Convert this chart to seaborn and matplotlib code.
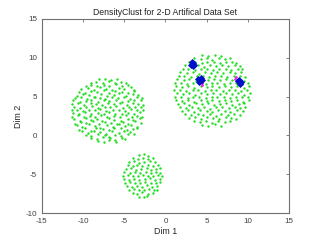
import numpy as np
import pandas as pd
import matplotlib
matplotlib.use("Agg")
import matplotlib.pyplot as plt
import seaborn as sns

# ---------------- data ----------------
left_x = [
    -8.2, -7.5, -6.8, -6.0,
    -9.0, -8.3, -7.6, -6.7, -6.1, -5.3, -4.9,
    -9.7, -9.0, -8.2, -7.4, -6.9, -6.1, -5.4, -4.6,
    -10.1, -9.4, -8.7, -7.9, -7.2, -6.5, -5.7, -5.0, -4.3, -3.8,
    -10.5, -9.8, -9.1, -8.4, -7.6, -6.8, -6.2, -5.4, -4.7, -4.0, -3.5,
    -10.8, -10.1, -9.3, -8.6, -7.9, -7.1, -6.4, -5.7, -4.9, -4.2, -3.4,
    -11.0, -10.3, -9.6, -8.8, -8.1, -7.4, -6.6, -5.9, -5.2, -4.5, -3.7, -3.0,
    -11.1, -10.4, -9.7, -9.0, -8.3, -7.7, -6.9, -6.2, -5.4, -4.6, -3.9, -3.1,
    -11.3, -10.6, -9.9, -9.2, -8.5, -7.8, -7.1, -6.3, -5.5, -4.8, -4.1, -3.4, -2.8,
    -11.2, -10.5, -9.8, -9.0, -8.2, -7.5, -6.8, -6.1, -5.3, -4.6, -3.8, -3.1,
    -11.4, -10.8, -10.0, -9.3, -8.6, -7.9, -7.2, -6.4, -5.7, -4.9, -4.2, -3.5, -2.7,
    -11.1, -10.4, -9.6, -8.9, -8.2, -7.4, -6.7, -6.0, -5.2, -4.4, -3.7, -3.0,
    -11.3, -10.6, -9.9, -9.1, -8.4, -7.7, -7.0, -6.3, -5.5, -4.7, -4.0, -3.3, -2.7,
    -11.2, -10.4, -9.7, -9.0, -8.2, -7.5, -6.8, -6.0, -5.3, -4.5, -3.8, -3.0,
    -11.0, -10.2, -9.5, -8.7, -8.0, -7.3, -6.5, -5.8, -5.0, -4.3, -3.5, -2.9,
    -10.8, -10.0, -9.3, -8.6, -7.8, -7.1, -6.3, -5.6, -4.8, -4.0, -3.3,
    -10.5, -9.8, -9.0, -8.3, -7.5, -6.8, -6.1, -5.3, -4.6, -3.8,
    -10.2, -9.4, -8.7, -8.0, -7.2, -6.5, -5.7, -5.0, -4.2, -3.8,
    -9.7, -9.0, -8.3, -7.5, -6.8, -6.0, -5.3, -4.5,
    -9.1, -8.4, -7.6, -6.9, -6.1, -5.4, -4.8,
    -8.1, -7.4, -6.6, -5.9,
]
left_y = [
    -0.7, -0.9, -0.6, -0.8,
    -0.3, -0.5, -0.2, -0.4, -0.6, -0.3, -0.5,
    0.1, -0.1, 0.2, 0.0, -0.2, 0.1, -0.1, 0.2,
    0.5, 0.3, 0.6, 0.4, 0.2, 0.5, 0.3, 0.6, 0.4, 0.2,
    0.7, 0.9, 0.6, 1.0, 0.8, 0.7, 0.9, 1.0, 0.7, 0.8, 0.9,
    1.3, 1.1, 1.4, 1.2, 1.0, 1.3, 1.1, 1.4, 1.2, 1.3, 1.1,
    1.5, 1.7, 1.6, 1.8, 1.5, 1.7, 1.6, 1.4, 1.7, 1.5, 1.8, 1.6,
    2.1, 1.9, 2.2, 2.0, 2.1, 1.9, 2.2, 2.0, 1.9, 2.1, 2.0, 2.2,
    2.4, 2.6, 2.3, 2.5, 2.4, 2.6, 2.3, 2.5, 2.4, 2.6, 2.3, 2.5, 2.4,
    2.9, 2.7, 3.0, 2.8, 2.9, 2.7, 3.0, 2.8, 2.7, 2.9, 2.8, 3.0,
    3.2, 3.3, 3.1, 3.3, 3.2, 3.4, 3.1, 3.2, 3.3, 3.1, 3.4, 3.2, 3.3,
    3.7, 3.5, 3.6, 3.8, 3.5, 3.7, 3.6, 3.8, 3.5, 3.7, 3.6, 3.7,
    4.0, 4.1, 3.9, 4.2, 4.0, 3.9, 4.1, 4.0, 4.2, 3.9, 4.1, 4.0, 3.9,
    4.5, 4.3, 4.4, 4.6, 4.3, 4.5, 4.4, 4.6, 4.3, 4.4, 4.6, 4.5,
    4.8, 4.9, 4.7, 5.0, 4.8, 4.7, 4.9, 4.8, 5.0, 4.7, 4.9, 4.8,
    5.1, 5.3, 5.2, 5.0, 5.3, 5.1, 5.2, 5.4, 5.1, 5.3, 5.2,
    5.6, 5.5, 5.7, 5.6, 5.8, 5.5, 5.7, 5.6, 5.5, 5.7,
    6.0, 6.1, 5.9, 6.2, 6.0, 5.9, 6.1, 6.0, 6.2, 5.9,
    6.4, 6.5, 6.3, 6.5, 6.4, 6.6, 6.3, 6.5,
    6.8, 6.9, 6.7, 7.0, 6.8, 6.9, 6.7,
    7.2, 7.3, 7.1, 7.3,
]

right_x = [
    4.5, 5.2, 6.0, 6.8,
    3.5, 4.2, 4.9, 5.7, 6.4, 7.2, 7.9,
    2.9, 3.6, 4.3, 5.0, 5.8, 6.5, 7.3, 8.0, 8.6,
    2.4, 3.1, 3.9, 4.6, 5.4, 6.1, 6.8, 7.6, 8.3, 9.0,
    2.0, 2.8, 3.5, 4.2, 5.0, 5.7, 6.4, 7.2, 7.9, 8.7, 9.4,
    1.8, 2.5, 3.2, 4.0, 4.7, 5.4, 6.2, 6.9, 7.7, 8.4, 9.1, 9.7,
    1.5, 2.2, 2.9, 3.7, 4.4, 5.2, 5.9, 6.6, 7.4, 8.1, 8.9, 9.6,
    1.3, 2.0, 2.8, 3.5, 4.3, 5.0, 5.7, 6.5, 7.2, 8.0, 8.7, 9.4, 10.1,
    1.2, 1.9, 2.7, 3.4, 4.1, 4.9, 5.6, 6.3, 7.1, 7.8, 8.6, 9.3, 10.0,
    1.4, 2.1, 2.9, 3.6, 4.3, 5.1, 5.8, 6.6, 7.3, 8.1, 8.8, 9.6, 10.3,
    1.1, 1.8, 2.5, 3.3, 4.0, 4.8, 5.5, 6.2, 7.0, 7.7, 8.5, 9.2, 9.9,
    1.3, 2.0, 2.8, 3.5, 4.3, 5.0, 5.7, 6.5, 7.2, 8.0, 8.7, 9.5, 10.2,
    1.2, 1.9, 2.6, 3.4, 4.1, 4.9, 5.6, 6.3, 7.1, 7.8, 8.6, 9.3, 10.0,
    1.4, 2.2, 2.9, 3.7, 4.4, 5.2, 5.9, 6.6, 7.4, 8.1, 8.9, 9.6,
    1.6, 2.3, 3.1, 3.8, 4.6, 5.3, 6.0, 6.8, 7.5, 8.3, 9.0, 9.7,
    1.8, 2.6, 3.3, 4.1, 4.8, 5.5, 6.3, 7.0, 7.8, 8.5, 9.2,
    2.1, 2.8, 3.6, 4.3, 5.1, 5.8, 6.5, 7.3, 8.0, 8.8, 9.3,
    2.4, 3.2, 3.9, 4.7, 5.4, 6.1, 6.9, 7.6, 8.4, 9.0,
    2.9, 3.6, 4.4, 5.1, 5.9, 6.6, 7.3, 8.1, 8.6,
    3.5, 4.3, 5.0, 5.7, 6.5, 7.2, 7.9,
    4.5, 5.2, 6.0, 6.8,
]
right_y = [
    1.3, 1.2, 1.4, 1.2,
    1.8, 1.7, 1.9, 1.6, 1.8, 1.7, 1.9,
    2.2, 2.3, 2.1, 2.3, 2.2, 2.1, 2.3, 2.2, 2.1,
    2.7, 2.6, 2.8, 2.6, 2.7, 2.5, 2.8, 2.6, 2.7, 2.6,
    3.1, 3.2, 3.0, 3.2, 3.1, 3.0, 3.2, 3.1, 3.0, 3.2, 3.1,
    3.6, 3.5, 3.7, 3.5, 3.6, 3.4, 3.6, 3.7, 3.5, 3.6, 3.5, 3.6,
    4.0, 4.1, 3.9, 4.1, 4.0, 4.1, 3.9, 4.0, 4.1, 3.9, 4.0, 4.1,
    4.5, 4.4, 4.5, 4.3, 4.6, 4.4, 4.5, 4.4, 4.6, 4.4, 4.5, 4.3, 4.5,
    4.9, 5.0, 4.8, 5.0, 4.9, 4.8, 5.0, 4.9, 5.0, 4.8, 4.9, 5.0, 4.9,
    5.4, 5.3, 5.4, 5.2, 5.4, 5.3, 5.5, 5.3, 5.4, 5.3, 5.4, 5.2, 5.4,
    5.8, 5.9, 5.7, 5.9, 5.8, 5.7, 5.9, 5.8, 5.7, 5.9, 5.8, 5.7, 5.8,
    6.3, 6.2, 6.3, 6.1, 6.3, 6.2, 6.4, 6.2, 6.3, 6.2, 6.3, 6.1, 6.3,
    6.7, 6.8, 6.6, 6.8, 6.7, 6.6, 6.8, 6.7, 6.6, 6.8, 6.7, 6.6, 6.7,
    7.2, 7.1, 7.2, 7.0, 7.2, 7.1, 7.3, 7.1, 7.2, 7.1, 7.2, 7.0,
    7.6, 7.7, 7.5, 7.7, 7.6, 7.5, 7.7, 7.6, 7.5, 7.7, 7.6, 7.5,
    8.1, 8.0, 8.1, 7.9, 8.1, 8.0, 8.2, 8.0, 8.1, 8.0, 8.1,
    8.5, 8.6, 8.4, 8.6, 8.5, 8.4, 8.6, 8.5, 8.4, 8.6, 8.5,
    9.0, 8.9, 9.0, 8.8, 9.0, 8.9, 9.1, 8.9, 9.0, 8.9,
    9.4, 9.5, 9.3, 9.5, 9.4, 9.3, 9.5, 9.4, 9.3,
    9.9, 9.8, 9.9, 9.7, 9.9, 9.8, 9.9,
    10.3, 10.2, 10.4, 10.2,
]

bottom_x = [
    -3.2, -2.6, -2.2,
    -4.0, -3.4, -2.8, -2.1, -1.5,
    -4.4, -3.8, -3.2, -2.6, -2.0, -1.4, -1.0,
    -4.7, -4.1, -3.5, -2.9, -2.3, -1.6, -1.0,
    -4.9, -4.3, -3.7, -3.1, -2.5, -1.8, -1.2, -0.6,
    -5.0, -4.4, -3.8, -3.2, -2.5, -1.9, -1.3, -0.6,
    -5.1, -4.5, -3.9, -3.3, -2.7, -2.1, -1.5, -0.9, -0.4,
    -5.0, -4.3, -3.7, -3.1, -2.4, -1.8, -1.2, -0.6,
    -4.8, -4.2, -3.6, -3.0, -2.3, -1.7, -1.1, -0.6,
    -4.6, -4.0, -3.4, -2.8, -2.1, -1.5, -0.9,
    -4.4, -3.8, -3.2, -2.6, -1.9, -1.3,
    -3.9, -3.3, -2.7, -2.1, -1.5,
    -3.2, -2.6, -2.1,
]
bottom_y = [
    -7.9, -8.0, -7.8,
    -7.4, -7.5, -7.3, -7.5, -7.4,
    -7.0, -6.9, -7.1, -7.0, -6.9, -7.1, -7.0,
    -6.5, -6.6, -6.5, -6.6, -6.4, -6.6, -6.5,
    -6.1, -6.0, -6.2, -6.1, -6.0, -6.2, -6.1, -6.0,
    -5.6, -5.7, -5.6, -5.7, -5.6, -5.5, -5.7, -5.6,
    -5.2, -5.1, -5.3, -5.2, -5.1, -5.3, -5.2, -5.1, -5.2,
    -4.7, -4.8, -4.7, -4.8, -4.7, -4.8, -4.7, -4.8,
    -4.3, -4.2, -4.4, -4.3, -4.2, -4.4, -4.3, -4.2,
    -3.8, -3.9, -3.8, -3.9, -3.8, -3.9, -3.8,
    -3.4, -3.3, -3.5, -3.4, -3.3, -3.4,
    -2.9, -3.0, -2.9, -3.0, -2.9,
    -2.5, -2.4, -2.6,
]

# density peaks (blue diamonds) and their halo points (magenta)
center_x = [3.1, 3.3, 3.5, 3.2, 3.4, 4.0, 4.2, 4.3, 4.1, 4.4, 8.8, 9.0, 9.2, 8.9, 9.1]
center_y = [9.0, 9.3, 9.1, 9.4, 8.9, 7.3, 7.0, 7.4, 6.9, 7.1, 7.0, 6.8, 6.9, 7.1, 6.6]
halo_x = [4.5, 4.4, 8.5, 8.6]
halo_y = [6.7, 6.5, 7.3, 7.5]

title_text = "DensityClust for 2-D Artifical Data Set"
x_label = "Dim 1"
y_label = "Dim 2"
x_ticks = [-15, -10, -5, 0, 5, 10, 15]
y_ticks = [-10, -5, 0, 5, 10, 15]

# ---------------- build tables ----------------
pts = pd.DataFrame({
    "x": left_x + right_x + bottom_x,
    "y": left_y + right_y + bottom_y,
})
centers = pd.DataFrame({"x": center_x, "y": center_y})
halo = pd.DataFrame({"x": halo_x, "y": halo_y})

# ---------------- plot ----------------
sns.set_theme(style="white")
plt.rcParams["font.family"] = ["Liberation Sans", "DejaVu Sans"]

fig = plt.figure(figsize=(3.2, 2.4), dpi=100)
ax = fig.add_axes([0.131, 0.1125, 0.772, 0.809])

sns.scatterplot(data=pts, x="x", y="y", ax=ax, color="#22dd22",
                s=3.0, linewidth=0, marker="o", legend=False)
sns.scatterplot(data=halo, x="x", y="y", ax=ax, color="#ee22ee",
                s=4, linewidth=0, marker="o", legend=False)
sns.scatterplot(data=centers, x="x", y="y", ax=ax, color="#0010c8",
                s=13, linewidth=0, marker="D", legend=False)

ax.set_xlim(-15, 15)
ax.set_ylim(-10, 15)
ax.set_xticks(x_ticks)
ax.set_yticks(y_ticks)
ax.set_xticklabels([str(t) for t in x_ticks])
ax.set_yticklabels([str(t) for t in y_ticks])

for sp in ax.spines.values():
    sp.set_color("#707070")
    sp.set_linewidth(0.8)
    sp.set_visible(True)

ax.tick_params(axis="both", which="major", direction="in", length=2.2,
               width=0.6, color="#707070", labelsize=5.8,
               labelcolor="#404040", top=True, right=True, pad=3.5)

ax.set_xlabel(x_label, fontsize=6.4, color="#262626", labelpad=1.5)
ax.set_ylabel(y_label, fontsize=6.4, color="#262626", labelpad=1.5)
ax.set_title(title_text, fontsize=6.2, color="#202020", pad=3)

fig.savefig("out.png", dpi=100)
